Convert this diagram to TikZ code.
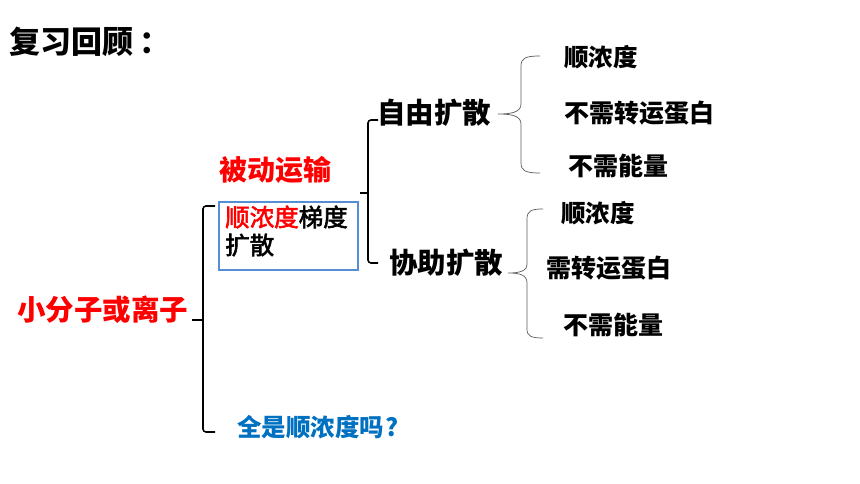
\documentclass[tikz,border=0pt]{standalone}
\usepackage{fontspec}
\setmainfont{Noto Sans CJK SC}
\newfontfamily\cjk{Noto Sans CJK SC}
\newfontfamily\cjkmed[FakeBold=2.5]{Noto Sans CJK SC}
\definecolor{myred}{RGB}{255,0,0}
\definecolor{myblue}{RGB}{0,112,192}
\definecolor{boxblue}{RGB}{85,142,213}
\definecolor{thin}{RGB}{90,90,90}
\begin{document}
\begin{tikzpicture}[x=1pt,y=-1pt,
  txt/.style={anchor=west,inner sep=0pt,font=\cjk\bfseries\fontsize{#1}{#1}\selectfont},
  medtxt/.style={anchor=west,inner sep=0pt,font=\cjkmed\fontsize{#1}{#1}\selectfont},
  heavy/.style={line width=1.6pt,rounded corners=3pt},
  lite/.style={draw=thin,line width=0.7pt}]
\useasboundingbox (0,0) rectangle (860,484);
\node[txt=31] (title) at (9,42) {复习回顾\hspace{6pt}：};
\node[txt=28.5,text=myred] (small) at (17,310) {小分子或离子};
\node[txt=28,text=myred] (pass) at (219,170) {被动运输};
\node[draw=boxblue,line width=1.4pt,minimum width=139pt,minimum height=68pt,inner sep=0pt] (box) at (288.5,236) {};
\node[medtxt=24.5] (grad1) at (225,217) {\textcolor{myred}{顺浓度}梯度};
\node[medtxt=24.5] (grad2) at (225,245) {扩散};
\node[txt=28.5] (free) at (377,113) {自由扩散};
\node[txt=28.5] (fac) at (389,263) {协助扩散};
\node[txt=24.5] (a1) at (564,57) {顺浓度};
\node[txt=25] (a2) at (564,113) {不需转运蛋白};
\node[txt=25] (a3) at (568,166) {不需能量};
\node[txt=24.5] (b1) at (561,213) {顺浓度};
\node[txt=25] (b2) at (546,268) {需转运蛋白};
\node[txt=25] (b3) at (563,325) {不需能量};
\node[txt=24.5,text=myblue] (q) at (237,427) {全是顺浓度吗\hspace{1pt}?};
% big bracket
\coordinate (s0) at (192,320);
\draw[heavy] (215,206) -- (203,206) -- (203,432) -- (215,432);
\draw[line width=1.6pt] (s0) -- (203,320);
% second bracket
\coordinate (p0) at (360,193);
\draw[heavy] (378,120) -- (368,120) -- (368,263) -- (378,263);
\draw[line width=1.6pt] (p0) -- (368,193);
% thin braces
\draw[lite] (540,56) .. controls (526,56) and (521,58) .. (521,66) -- (521,104) .. controls (521,112) and (512,114) .. (498,114)
  .. controls (512,114) and (521,116) .. (521,124) -- (521,163) .. controls (521,171) and (526,173) .. (540,173);
\draw[lite] (543,209) .. controls (531,209) and (527,211) .. (527,219) -- (527,264) .. controls (527,271) and (520,273) .. (508,273)
  .. controls (520,273) and (527,275) .. (527,283) -- (527,329) .. controls (527,336) and (531,338) .. (543,338);
\end{tikzpicture}
\end{document}
